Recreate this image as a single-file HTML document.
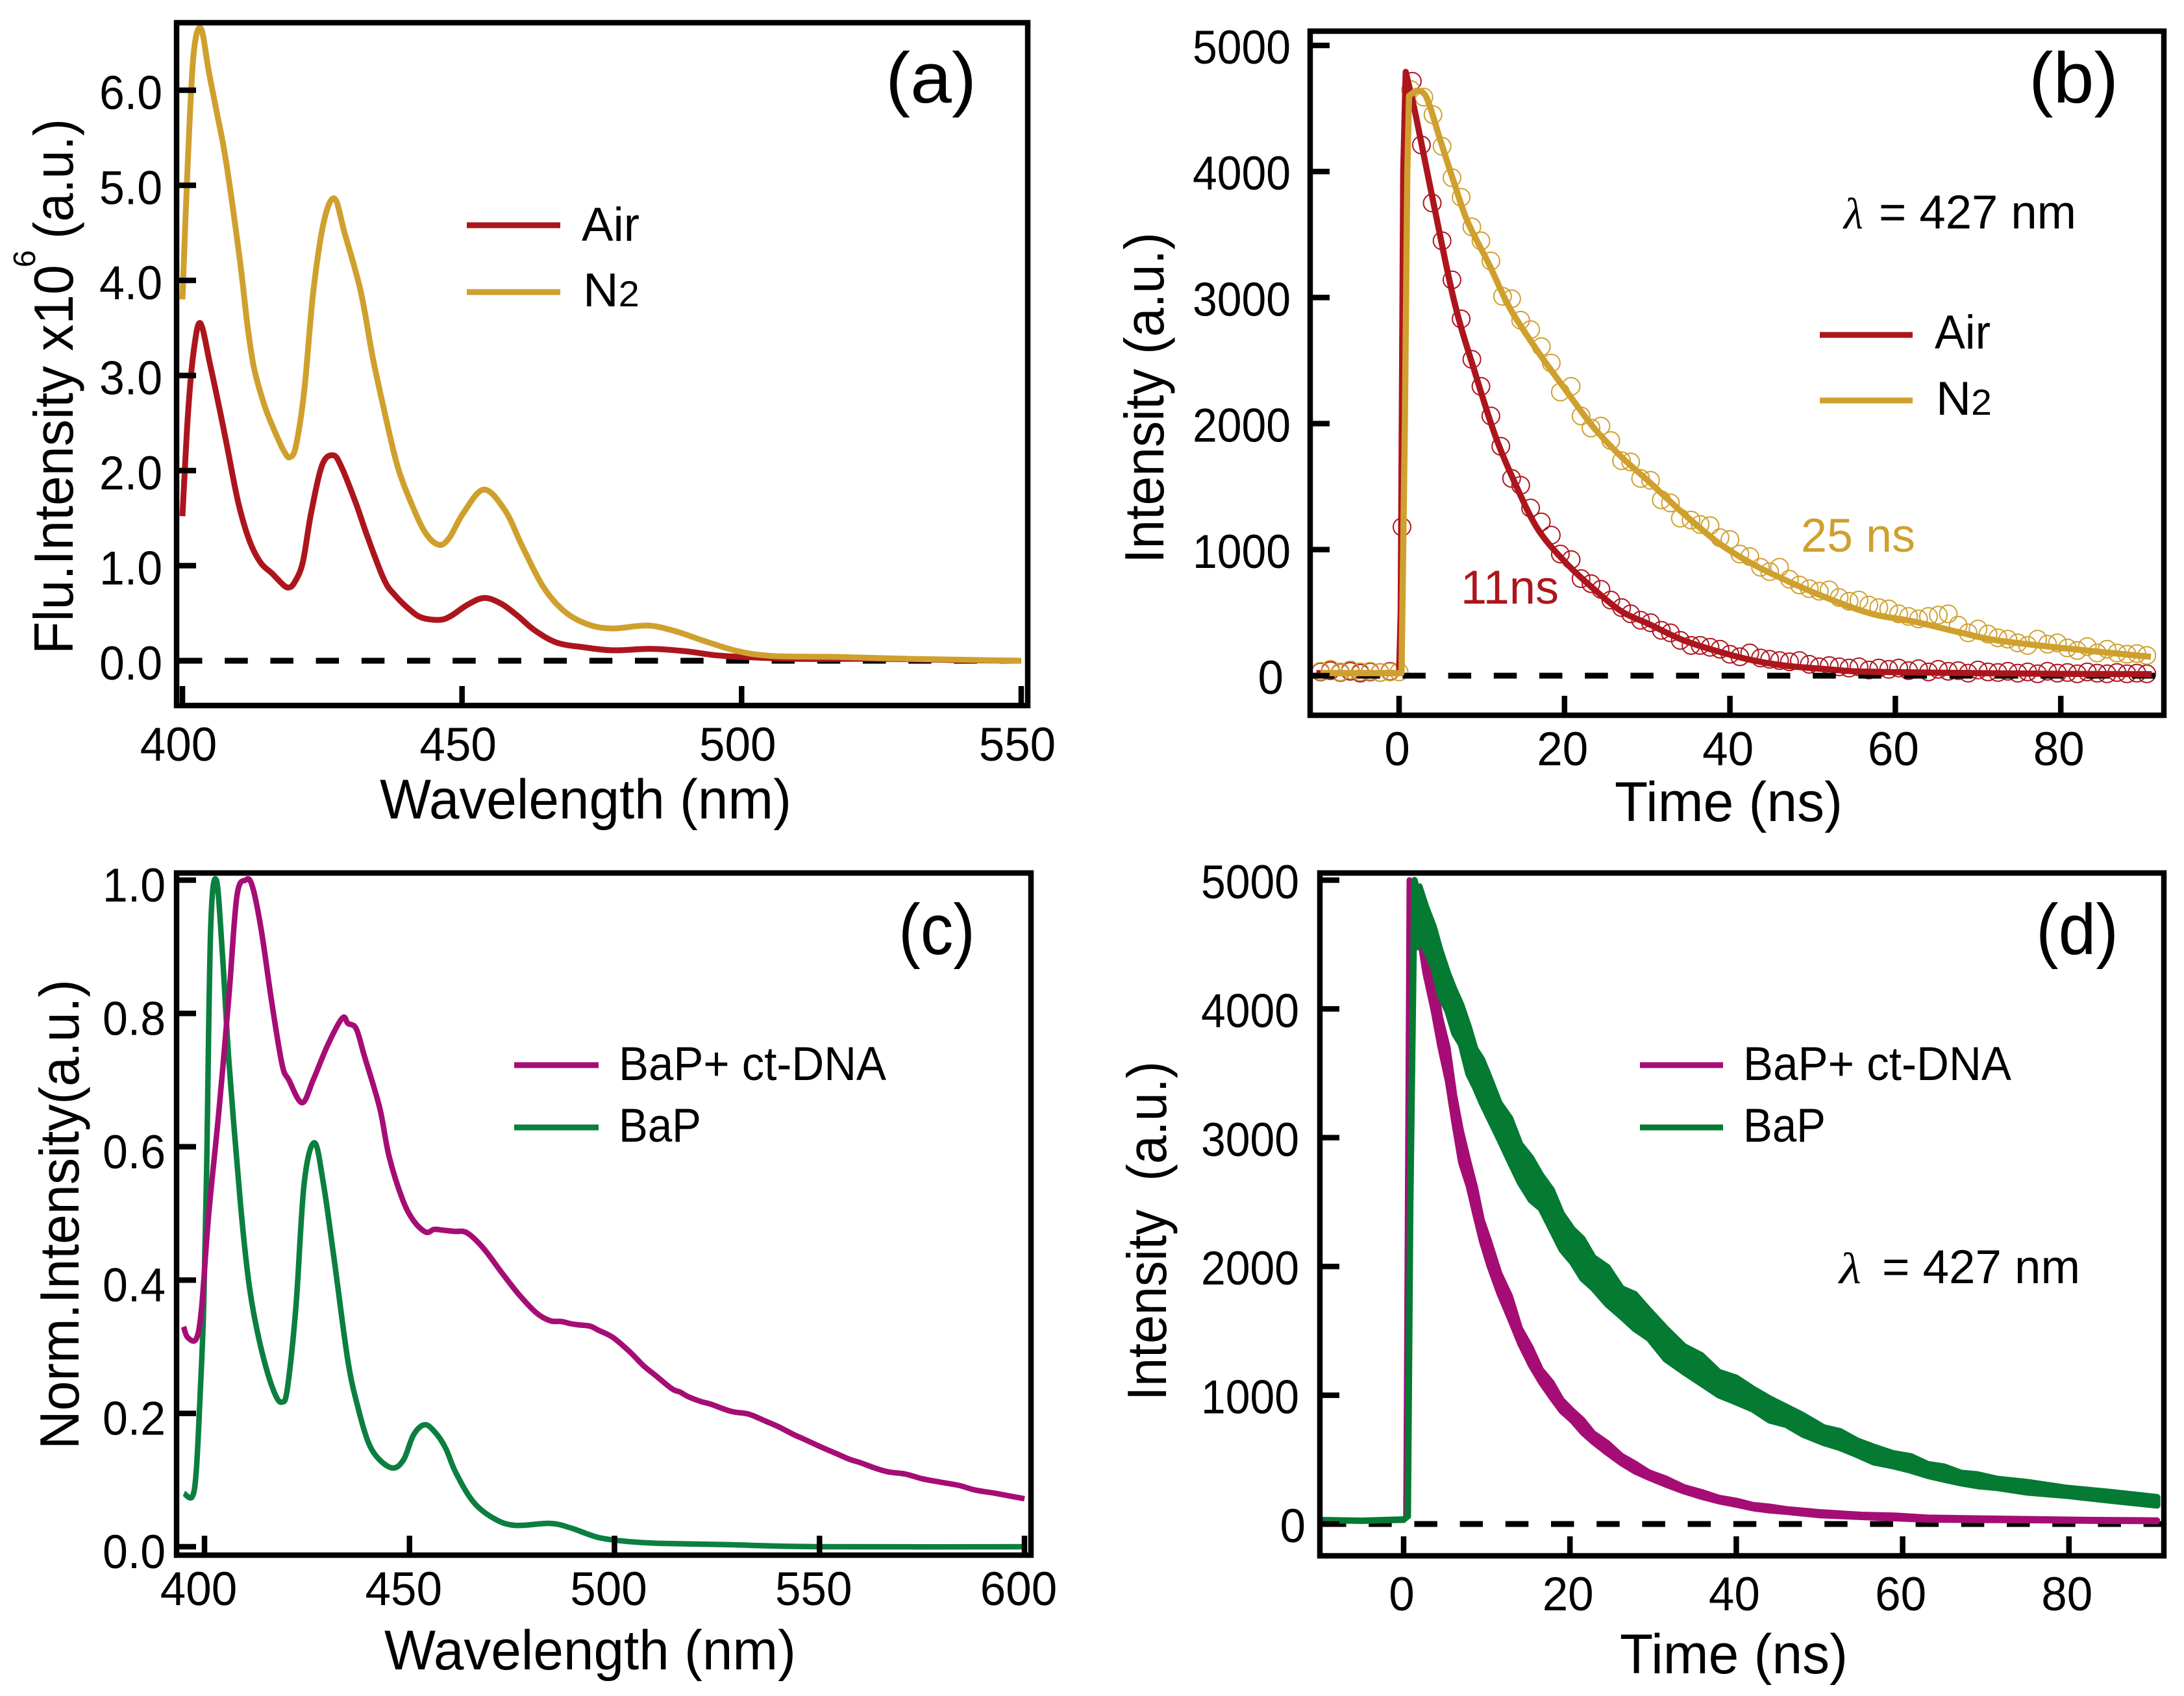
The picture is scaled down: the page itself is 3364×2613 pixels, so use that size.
<!DOCTYPE html>
<html>
<head>
<meta charset="utf-8">
<title>Fluorescence spectra and decay panels</title>
<style>
html,body{margin:0;padding:0;background:#fff;width:3364px;height:2613px;overflow:hidden;}
svg{display:block;}
text{font-family:"Liberation Sans",sans-serif;fill:#000;}
.t{font-size:86px;}
.y{font-size:85px;}
.p{font-size:110px;}
.l{font-size:73px;}
</style>
</head>
<body>
<svg id="fig" xmlns="http://www.w3.org/2000/svg" width="3364" height="2613" viewBox="0 0 3364 2613">
<rect x="0" y="0" width="3364" height="2613" fill="#fff"/>

<g id="panel-a">
  <text class="t" x="585" y="1261" textLength="634" lengthAdjust="spacingAndGlyphs">Wavelength (nm)</text>
  <text class="y" transform="translate(112,1008) rotate(-90)" x="0" y="0" textLength="600" lengthAdjust="spacingAndGlyphs">Flu.Intensity x10</text>
  <text transform="translate(54,412) rotate(-90)" x="0" y="0" style="font-size:48px">6</text>
  <text class="y" transform="translate(112,368) rotate(-90)" x="0" y="0" textLength="185" lengthAdjust="spacingAndGlyphs">(a.u.)</text>
  <text class="p" x="1364" y="158" textLength="140" lengthAdjust="spacingAndGlyphs">(a)</text>
  <line x1="719" y1="347" x2="863" y2="347" stroke="#ad151d" stroke-width="9"/>
  <line x1="719" y1="450" x2="863" y2="450" stroke="#cfa02e" stroke-width="9"/>
  <text class="l" x="896" y="371" textLength="89" lengthAdjust="spacingAndGlyphs">Air</text>
  <text class="l" x="898" y="472" textLength="87" lengthAdjust="spacingAndGlyphs">N<tspan style="font-size:56px">2</tspan></text>
</g>

<g id="panel-b">
  <text class="t" x="2487" y="1265" textLength="351" lengthAdjust="spacingAndGlyphs">Time (ns)</text>
  <text class="y" transform="translate(1792,868) rotate(-90)" x="0" y="0" textLength="510" lengthAdjust="spacingAndGlyphs">Intensity (a.u.)</text>
  <text class="p" x="3125" y="158" textLength="138" lengthAdjust="spacingAndGlyphs">(b)</text>
  <text x="2840" y="352" textLength="30" lengthAdjust="spacingAndGlyphs" style="font-size:68px;font-style:italic;font-family:'Liberation Serif',serif">λ</text>
  <text class="l" x="2894" y="352" textLength="304" lengthAdjust="spacingAndGlyphs">= 427 nm</text>
  <line x1="2803" y1="516" x2="2946" y2="516" stroke="#ad151d" stroke-width="9"/>
  <line x1="2803" y1="617" x2="2946" y2="617" stroke="#cfa02e" stroke-width="9"/>
  <text class="l" x="2980" y="537" textLength="86" lengthAdjust="spacingAndGlyphs">Air</text>
  <text class="l" x="2982" y="639" textLength="86" lengthAdjust="spacingAndGlyphs">N<tspan style="font-size:56px">2</tspan></text>
  <text class="l" x="2250" y="930" textLength="151" lengthAdjust="spacingAndGlyphs" style="fill:#ad151d">11ns</text>
  <text class="l" x="2774" y="850" textLength="176" lengthAdjust="spacingAndGlyphs" style="fill:#cfa02e">25 ns</text>
</g>

<g id="panel-c">
  <text class="t" x="592" y="2572" textLength="634" lengthAdjust="spacingAndGlyphs">Wavelength (nm)</text>
  <text class="y" transform="translate(121,2233) rotate(-90)" x="0" y="0" textLength="724" lengthAdjust="spacingAndGlyphs">Norm.Intensity(a.u.)</text>
  <text class="p" x="1384" y="1470" textLength="118" lengthAdjust="spacingAndGlyphs">(c)</text>
  <line x1="792" y1="1641" x2="922" y2="1641" stroke="#a50d75" stroke-width="9"/>
  <line x1="792" y1="1737" x2="922" y2="1737" stroke="#0b7f3f" stroke-width="9"/>
  <text class="l" x="953" y="1664" textLength="412" lengthAdjust="spacingAndGlyphs">BaP+ ct-DNA</text>
  <text class="l" x="953" y="1759" textLength="127" lengthAdjust="spacingAndGlyphs">BaP</text>
</g>

<g id="panel-d">
  <text class="t" x="2495" y="2578" textLength="351" lengthAdjust="spacingAndGlyphs">Time (ns)</text>
  <text class="y" transform="translate(1796,2158) rotate(-90)" x="0" y="0" textLength="523" lengthAdjust="spacingAndGlyphs" style="white-space:pre">Intensity  (a.u.)</text>
  <text class="p" x="3136" y="1470" textLength="127" lengthAdjust="spacingAndGlyphs">(d)</text>
  <text x="2833" y="1977" textLength="34" lengthAdjust="spacingAndGlyphs" style="font-size:68px;font-style:italic;font-family:'Liberation Serif',serif">λ</text>
  <text class="l" x="2899" y="1977" textLength="305" lengthAdjust="spacingAndGlyphs">= 427 nm</text>
  <line x1="2526" y1="1641" x2="2654" y2="1641" stroke="#a50d75" stroke-width="9"/>
  <line x1="2526" y1="1737" x2="2654" y2="1737" stroke="#047a32" stroke-width="9"/>
  <text class="l" x="2685" y="1664" textLength="413" lengthAdjust="spacingAndGlyphs">BaP+ ct-DNA</text>
  <text class="l" x="2685" y="1759" textLength="127" lengthAdjust="spacingAndGlyphs">BaP</text>
</g>
</svg>

<script>
// ---------- Panel (a) data ----------
const aTicksX = ['400','450','500','550'];
const aTicksY = ['0.0','1.0','2.0','3.0','4.0','5.0','6.0'];
const aAirX = [400,401,402,403.2,405,406.7,408,410,412,414,416,418,419,420,421.5,423,425,427,428.5,431,433,436,438,441,443,446,448,451,454,457,460,463,467,472,477,484,490,495,500,510,525,540,550];
const aAirY = [1.52,2.6,3.25,3.55,3.1,2.63,2.25,1.66,1.26,1.03,0.92,0.8,0.77,0.82,1.03,1.55,2.06,2.16,2.03,1.66,1.32,0.86,0.69,0.52,0.45,0.43,0.47,0.59,0.66,0.6,0.47,0.32,0.19,0.14,0.11,0.125,0.1,0.06,0.04,0.02,0.02,0.005,0];
const aN2X = [400,401,402,403.3,404.7,406.2,407.8,410.3,411.6,412.8,414.7,416.6,418.2,419.2,420.3,421.8,423.4,425.3,427.2,429,431.9,434,435.9,438.4,440.9,443.4,445.8,447.7,450.2,453.9,457.7,460.8,464.5,468.3,472.6,477,483.2,488.2,493.2,499.4,505.6,517,530,550];
const aN2Y = [3.8,5.3,6.38,6.65,6.2,5.75,5.25,4.2,3.54,3.08,2.68,2.4,2.2,2.14,2.26,2.85,3.88,4.62,4.86,4.5,3.88,3.2,2.68,2.06,1.66,1.35,1.22,1.29,1.55,1.8,1.58,1.2,0.78,0.52,0.38,0.34,0.37,0.31,0.21,0.1,0.05,0.04,0.02,0];

// ---------- Panel (b) data ----------
const bTicksX = ['0','20','40','60','80'];
const bTicksY = ['0','1000','2000','3000','4000','5000'];
const bAirFitT = [-10,0,0.2,0.5,0.8,2,4.1,6.7,9.2,11.7,14.2,16.8,20.1,23.5,26.9,30.2,34.4,38.7,42.9,47,52,55,60,70,80,91];
const bAirFitV = [20,20,500,4000,4790,4450,3770,2960,2400,1890,1500,1160,900,690,510,410,280,190,120,77,50,35,28,20,15,12];
const bN2FitT = [-9.5,0.3,0.7,1,1.2,2,3.3,5,6.7,8.3,10.9,13.4,16.8,20.1,23.5,26.9,30.2,34.4,38.7,42.9,47,52,57.2,62.2,68,72.3,80.8,90.9];
const bN2FitV = [20,20,2000,4000,4600,4640,4590,4245,3900,3600,3260,2915,2570,2270,1970,1735,1540,1285,1050,880,750,610,490,430,340,280,215,150];
const bAirPtsT = [-9.5,-8.3,-7.1,-5.9,-4.7,-3.5,-2.3,-1.1,0.35,1.6,2.7,4,5.2,6.4,7.5,8.8,9.9,11.1,12.3,13.6,14.7,15.9,17.2,18.4,19.5,20.8,22,23.2,24.4,25.6,26.9,28,29.2,30.4,31.7,32.8,34,35.3,36.4,37.6,38.8,40,41.2,42.4,43.7,44.8,46,47.2,48.4,49.6,50.8,52,53.2,54.4,55.6,56.8,58,59.2,60.4,61.6,62.8,64,65.2,66.4,67.6,68.8,70,71.2,72.4,73.6,74.8,76,77.2,78.4,79.6,80.8,82,83.2,84.4,85.6,86.8,88,89.2,90.4];
const bAirPtsV = [30,40,25,35,20,30,25,35,1180,4715,4210,3750,3450,3140,2830,2510,2295,2060,1820,1565,1510,1330,1220,1115,965,920,770,730,685,600,540,490,440,420,360,340,280,240,240,225,210,170,150,180,140,130,120,110,120,90,70,80,70,60,70,45,60,50,60,40,55,30,50,35,40,20,45,30,25,35,20,30,15,35,20,25,15,30,20,15,25,15,20,15];
const bN2PtsT = [-9.5,-8.3,-7.1,-5.9,-4.7,-3.5,-2.3,-1.1,0,1.4,3,4.1,5.2,6.4,7.5,8.8,9.9,11.1,12.5,13.6,14.7,15.9,17.2,18.4,19.5,20.8,22,23.2,24.4,25.6,26.9,28,29.2,30.4,31.7,32.8,34,35.3,36.4,37.6,38.8,40,41.2,42.4,43.7,44.8,46,47.2,48.4,49.6,50.8,52,53.2,54.4,55.6,56.8,58,59.2,60.4,61.6,62.8,64,65.2,66.4,67.6,68.8,70,71.2,72.4,73.6,74.8,76,77.2,78.4,79.6,80.8,82,83.2,84.4,85.6,86.8,88,89.2,90.4];
const bN2PtsV = [35,50,30,45,30,35,25,30,30,4650,4590,4450,4200,3950,3795,3560,3450,3290,3010,2990,2820,2745,2610,2480,2250,2295,2060,1965,1980,1865,1705,1695,1565,1550,1395,1370,1250,1235,1200,1190,1095,1080,965,945,860,825,860,765,720,690,670,680,620,590,600,560,540,530,490,470,450,470,480,490,400,340,370,330,300,290,260,240,290,250,260,220,200,230,180,210,180,170,175,160];

// ---------- Panel (c) data ----------
const cTicksX = ['400','450','500','550','600'];
const cTicksY = ['0.0','0.2','0.4','0.6','0.8','1.0'];
const cBapX = [395,397,398,399,399.8,400.5,401.5,402.9,404.4,406,408.7,410.4,412,414.6,417.2,418.9,420.2,422.3,424.3,426.8,429,431.6,435,437.6,440,442.6,446,448.6,451,453.7,456.2,458.8,461.3,465.6,470.7,475.8,484.3,489.4,496,503,511.5,528,550,600];
const cBapY = [0.08,0.075,0.115,0.237,0.36,0.56,0.927,1,0.886,0.724,0.52,0.416,0.35,0.278,0.229,0.217,0.237,0.36,0.545,0.606,0.545,0.432,0.278,0.205,0.156,0.131,0.118,0.131,0.168,0.183,0.172,0.148,0.111,0.067,0.042,0.032,0.035,0.028,0.014,0.008,0.005,0.003,0,0];
const cDnaX = [394.9,395.9,398,399.3,401,403.6,406,407.9,410,411.6,413.8,416.3,418.9,420.6,423.8,426.5,430,433.6,435,437,439,442.7,445,448.3,451,454,456,458,461,464,468,472.4,476.6,480.9,484.3,487,489,491,494,496,499.6,503.8,507,510,514,516,518,521,523.4,528.5,532.7,537,540,543.8,546,550.6,554,557.4,560,564,567,571,575,579.4,584,588,593,600];
const cDnaY = [0.33,0.314,0.312,0.359,0.497,0.659,0.83,0.976,1,0.992,0.927,0.821,0.724,0.7,0.666,0.7,0.752,0.793,0.785,0.777,0.736,0.659,0.586,0.521,0.489,0.472,0.476,0.475,0.473,0.471,0.448,0.412,0.379,0.351,0.339,0.338,0.335,0.333,0.331,0.325,0.314,0.292,0.272,0.257,0.237,0.232,0.225,0.218,0.214,0.203,0.199,0.188,0.18,0.168,0.162,0.149,0.14,0.131,0.126,0.117,0.112,0.109,0.102,0.097,0.092,0.085,0.08,0.072];

// ---------- Panel (d) data ----------
const dTicksX = ['0','20','40','60','80'];
const dTicksY = ['0','1000','2000','3000','4000','5000'];
const dDnaT = [-10,-5,0,0.3,0.5,0.7,1.1,1.9,2.6,3.6,4.4,5.3,6.1,6.9,7.8,8.6,9.4,10.3,11.5,12.8,14,15.3,16.5,17.8,19,20.3,21.5,22.8,24.5,26.2,27.8,29.5,31.5,33.7,35.8,37.9,40,42,44,46,50,55,59,63,68,75,83,90.6];
const dDnaV = [30,25,30,50,2500,5000,4800,4700,4400,4120,3820,3570,3220,2930,2720,2510,2280,2100,1870,1680,1460,1300,1150,1040,920,840,760,670,590,500,440,380,330,270,230,190,165,135,120,105,80,63,55,42,38,34,28,25];
const dDnaH = [0,0,0,0,0,0,90,130,120,135,115,130,110,125,95,105,85,95,80,90,60,70,50,60,45,40,50,35,40,30,32,22,25,18,20,15,17,14,16,12,13,10,12,9,8,6,5,4];
const dBapT = [-10,-5,0,0.5,0.8,1.3,1.6,1.9,2.7,3.6,4.4,5.3,6.1,6.9,7.8,8.6,9.4,10.3,11.5,12.8,14,15.3,16.5,17.8,19,20.3,21.5,22.8,24.5,26.2,27.8,29.5,31.5,33.7,35.8,37.9,40,42,44,46,48,50.5,52.5,54.6,56.5,58.8,61,63,65,67,69,71.4,75,79.7,85,90.6];
const dBapV = [30,25,35,60,2500,5000,4700,4750,4620,4480,4280,4130,3980,3880,3680,3540,3440,3310,3130,2980,2800,2680,2580,2440,2270,2160,2060,1950,1850,1720,1650,1550,1400,1280,1200,1090,1040,970,890,840,770,690,655,590,540,500,470,420,395,357,340,315,285,250,215,176];
const dBapH = [0,0,0,0,0,0,220,200,170,160,175,150,170,155,185,150,170,160,140,170,150,165,130,155,140,130,155,120,145,110,135,110,120,100,110,90,95,80,85,70,75,60,65,55,60,50,55,45,50,40,45,35,40,30,33,32];

const NS = 'http://www.w3.org/2000/svg';
const AIR = '#ad151d', N2C = '#cfa02e', DNA = '#a50d75', BAPC = '#0b7f3f', BAPD = '#047a32';

function axis(x0, kx, y0, ky, origin) {
  return { x: v => x0 + (v - origin) * kx, y: v => y0 - v * ky };
}
const axA = axis(281, 8.613, 1018, 146.5, 400);
const axB = axis(2155, 12.74, 1041, 0.1942, 0);
const axC = axis(315, 6.315, 2383, 1027, 400);
const axD = axis(2162, 12.81, 2348, 0.1984, 0);

// straight segments for the first `k` points (sharp rise), smooth curve after
function curvePath(ax, xs, ys, k) {
  const p = xs.map((v, i) => [ax.x(v), ax.y(ys[i])]);
  let d = 'M' + p[0][0].toFixed(1) + ' ' + p[0][1].toFixed(1);
  for (let i = 0; i < p.length - 1; i++) {
    if (i < k) {
      d += 'L' + p[i + 1][0].toFixed(1) + ' ' + p[i + 1][1].toFixed(1);
      continue;
    }
    const a = i === k ? p[i] : p[i - 1], b = p[i], c = p[i + 1], e = p[Math.min(i + 2, p.length - 1)];
    const c1x = b[0] + (c[0] - a[0]) / 6, c1y = b[1] + (c[1] - a[1]) / 6;
    const c2x = c[0] - (e[0] - b[0]) / 6, c2y = c[1] - (e[1] - b[1]) / 6;
    d += 'C' + c1x.toFixed(1) + ' ' + c1y.toFixed(1) + ' ' + c2x.toFixed(1) + ' ' + c2y.toFixed(1) + ' ' + c[0].toFixed(1) + ' ' + c[1].toFixed(1);
  }
  return d;
}
// noisy trace drawn as a filled band around the centre values
function bandPath(ax, xs, ys, hs) {
  const up = xs.map((v, i) => ax.x(v).toFixed(1) + ' ' + ax.y(ys[i] + hs[i]).toFixed(1));
  const dn = xs.map((v, i) => ax.x(v).toFixed(1) + ' ' + ax.y(ys[i] - hs[i]).toFixed(1)).reverse();
  return 'M' + up.join('L') + 'L' + dn.join('L') + 'Z';
}
function addSeries(g, d, color, width, name) {
  const el = document.createElementNS(NS, 'path');
  el.setAttribute('d', d);
  el.setAttribute('fill', 'none');
  el.setAttribute('stroke', color);
  el.setAttribute('stroke-width', width);
  el.setAttribute('stroke-linejoin', 'round');
  
  
  g.appendChild(el);
}
function addBand(g, d, color, width, name) {
  const el = document.createElementNS(NS, 'path');
  el.setAttribute('d', d);
  el.setAttribute('fill', color);
  el.setAttribute('stroke', color);
  el.setAttribute('stroke-width', width);
  el.setAttribute('stroke-linejoin', 'round');
  
  
  g.appendChild(el);
}
function addDash(g, x1, x2, y, name) {
  const el = document.createElementNS(NS, 'line');
  el.setAttribute('x1', x1);
  el.setAttribute('x2', x2);
  el.setAttribute('y1', y);
  el.setAttribute('y2', y);
  el.setAttribute('stroke', '#000');
  el.setAttribute('stroke-width', 9);
  el.setAttribute('stroke-dasharray', '35.5 34.7');
  
  
  g.appendChild(el);
}
function addCircles(g, ax, ts, vs, color, name) {
  ts.forEach((t, i) => {
    const c = document.createElementNS(NS, 'circle');
    c.setAttribute('cx', ax.x(t).toFixed(1));
    c.setAttribute('cy', ax.y(vs[i]).toFixed(1));
    c.setAttribute('r', 13.5);
    c.setAttribute('fill', 'none');
    c.setAttribute('stroke', color);
    c.setAttribute('stroke-width', 2);
    
    
    g.appendChild(c);
  });
}
function addFrame(g, x1, y1, x2, y2, name) {
  const r = document.createElementNS(NS, 'rect');
  r.setAttribute('x', x1);
  r.setAttribute('y', y1);
  r.setAttribute('width', x2 - x1);
  r.setAttribute('height', y2 - y1);
  r.setAttribute('fill', 'none');
  r.setAttribute('stroke', '#000');
  r.setAttribute('stroke-width', 8.5);
  
  
  g.appendChild(r);
}
function addTick(g, x1, y1, x2, y2, name) {
  const l = document.createElementNS(NS, 'line');
  l.setAttribute('x1', x1);
  l.setAttribute('y1', y1);
  l.setAttribute('x2', x2);
  l.setAttribute('y2', y2);
  l.setAttribute('stroke', '#000');
  l.setAttribute('stroke-width', 8.5);
  
  
  g.appendChild(l);
}
function labelLen(s) {
  if (s.indexOf('.') >= 0) return 97;
  if (s.length === 4) return 151;
  return s.length * 39.5;
}
function addLabel(g, x, y, str, anchor, name) {
  const t = document.createElementNS(NS, 'text');
  t.setAttribute('x', x);
  t.setAttribute('y', y);
  t.setAttribute('text-anchor', anchor);
  t.setAttribute('textLength', labelLen(str));
  t.setAttribute('lengthAdjust', 'spacingAndGlyphs');
  t.setAttribute('style', 'font-size:73px');
  t.textContent = str;
  
  
  g.appendChild(t);
}
function drawAxes(g, ax, ticksX, ticksY, box, xBase, yRight, xShift, yShift, zeroShift, id) {
  ticksX.forEach(s => {
    const v = parseFloat(s), x = ax.x(v);
    addTick(g, x, box[3], x, box[3] - 30, 'x-tick-' + id + '-' + s);
    addLabel(g, x + xShift, xBase, s, 'middle', 'x-tick-label-' + id + '-' + s);
  });
  ticksY.forEach(s => {
    const v = parseFloat(s), y = ax.y(v);
    addTick(g, box[0], y, box[0] + 30, y, 'y-tick-' + id + '-' + s);
    addLabel(g, s === '0' ? yRight + zeroShift : yRight, y + yShift, s, 'end', 'y-tick-label-' + id + '-' + s);
  });
}

const gA = document.getElementById('panel-a');
const gB = document.getElementById('panel-b');
const gC = document.getElementById('panel-c');
const gD = document.getElementById('panel-d');

// Panel a
addDash(gA, 276, 1573, axA.y(0), 'zero-line-a');
addSeries(gA, curvePath(axA, aAirX, aAirY, 0), AIR, 9, 'series-air-a');
addSeries(gA, curvePath(axA, aN2X, aN2Y, 0), N2C, 9, 'series-n2-a');
addFrame(gA, 272, 35, 1583, 1087, 'plot-frame-a');
drawAxes(gA, axA, aTicksX, aTicksY, [272, 35, 1583, 1087], 1172, 250, -6, 29, 0, 'a');

// Panel b
addCircles(gB, axB, bAirPtsT, bAirPtsV, AIR, 'data-point-air-b');
addCircles(gB, axB, bN2PtsT, bN2PtsV, N2C, 'data-point-n2-b');
addDash(gB, 2020, 3320, axB.y(0), 'zero-line-b');
addSeries(gB, curvePath(axB, bAirFitT, bAirFitV, 4), AIR, 9.5, 'fit-air-b');
addSeries(gB, curvePath(axB, bN2FitT, bN2FitV, 5), N2C, 9.5, 'fit-n2-b');
addFrame(gB, 2018, 48, 3333, 1102, 'plot-frame-b');
drawAxes(gB, axB, bTicksX, bTicksY, [2018, 48, 3333, 1102], 1179, 1988, -3, 28, -11, 'b');

// Panel c
addSeries(gC, curvePath(axC, cBapX, cBapY, 0), BAPC, 8.5, 'series-bap-c');
addSeries(gC, curvePath(axC, cDnaX, cDnaY, 0), DNA, 8.5, 'series-bap-dna-c');
addFrame(gC, 272, 1345, 1588, 2396, 'plot-frame-c');
drawAxes(gC, axC, cTicksX, cTicksY, [272, 1345, 1588, 2396], 2473, 255, -9, 33, 0, 'c');

// Panel d
addDash(gD, 2038, 3330, axD.y(0), 'zero-line-d');
addBand(gD, bandPath(axD, dDnaT, dDnaV, dDnaH), DNA, 9, 'series-bap-dna-d');
addBand(gD, bandPath(axD, dBapT, dBapV, dBapH), BAPD, 10, 'series-bap-d');
addFrame(gD, 2033, 1345, 3333, 2397, 'plot-frame-d');
drawAxes(gD, axD, dTicksX, dTicksY, [2033, 1345, 3333, 2397], 2481, 2001, -3, 28, 10, 'd');
</script>
</body>
</html>
